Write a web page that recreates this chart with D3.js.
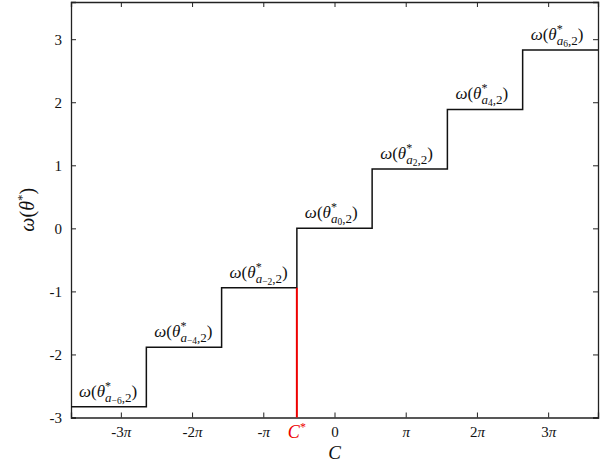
<!DOCTYPE html>
<html><head><meta charset="utf-8">
<script src="https://cdn.jsdelivr.net/npm/d3@7"></script>
<style>body{margin:0;background:#fff}svg{display:block}</style>
</head><body><svg id="c" width="606" height="466"></svg>
<script>
const PI = Math.PI;
// Step function data
const stepIndex = [-6, -4, -2, 0, 2, 4, 6];
const stepLevels = [-2.828, -1.886, -0.943, 0, 0.943, 1.886, 2.828];
const stepEdges = [-3.7 * PI, -8.30, -4.98, -1.66, 1.66, 4.98, 8.30, 3.7 * PI];
const cStar = -1.66;
const xTickMult = [-3, -2, -1, 0, 1, 2, 3];
const xTickLabels = ["-3π", "-2π", "-π", "0", "π", "2π", "3π"];
const yTicks = [-3, -2, -1, 0, 1, 2, 3];
const yTickLabels = ["-3", "-2", "-1", "0", "1", "2", "3"];

const W = 606, H = 466;
const m = {l: 71, r: 8, t: 2, b: 48.5};
const svg = d3.select("#c");
const x = d3.scaleLinear().domain([-3.7 * PI, 3.7 * PI]).range([m.l, W - m.r]);
const y = d3.scaleLinear().domain([-3, 3.59]).range([H - m.b, m.t]);
const serif = "'Liberation Serif','DejaVu Serif',serif";
const axC = "#222";

// Axes with inward ticks on all sides
const xt = xTickMult.map(k => k * PI);
const gB = svg.append("g").attr("transform", `translate(0,${y(-3)})`)
  .call(d3.axisBottom(x).tickValues(xt).tickSize(-5).tickPadding(9).tickFormat((d, i) => xTickLabels[i]));
const gT = svg.append("g").attr("transform", `translate(0,${y(3.59)})`)
  .call(d3.axisTop(x).tickValues(xt).tickSize(-5).tickFormat(""));
const gL = svg.append("g").attr("transform", `translate(${x(-3.7 * PI)},0)`)
  .call(d3.axisLeft(y).tickValues(yTicks).tickSize(-5).tickPadding(9).tickFormat((d, i) => yTickLabels[i]));
const gR = svg.append("g").attr("transform", `translate(${x(3.7 * PI)},0)`)
  .call(d3.axisRight(y).tickValues(yTicks).tickSize(-5).tickFormat(""));
[gB, gT, gL, gR].forEach(g => {
  g.select(".domain").attr("stroke", axC).attr("stroke-width", 1.3);
  g.selectAll(".tick line").attr("stroke", axC).attr("stroke-width", 1);
  g.selectAll("text").attr("font-family", serif).attr("font-size", 15).attr("fill", "#111");
});
// italic pi in x tick labels
gB.selectAll(".tick text").each(function(d, i) {
  const t = d3.select(this); const s = xTickLabels[i]; t.text(null);
  const pre = s.replace("π", "");
  if (pre) t.append("tspan").text(pre);
  if (s.includes("π")) t.append("tspan").attr("font-style", "italic").text("π");
});

// Step line
const pts = [];
stepLevels.forEach((v, i) => { pts.push([stepEdges[i], v]); pts.push([stepEdges[i + 1], v]); });
svg.append("path").datum(pts)
  .attr("d", d3.line().x(d => x(d[0])).y(d => y(d[1])))
  .attr("fill", "none").attr("stroke", "#111").attr("stroke-width", 1.5);

// Red C* line
svg.append("line").attr("x1", x(cStar)).attr("x2", x(cStar))
  .attr("y1", y(-3)).attr("y2", y(stepLevels[2]))
  .attr("stroke", "#ee0000").attr("stroke-width", 2);

// Step labels
stepIndex.forEach((k, i) => {
  const t = svg.append("text").attr("x", x(stepEdges[i]) + 8).attr("y", y(stepLevels[i]) - 10)
    .attr("font-family", serif).attr("font-size", 17).attr("fill", "#111");
  t.append("tspan").attr("font-style", "italic").text("ω");
  t.append("tspan").text("(");
  t.append("tspan").attr("font-style", "italic").text("θ");
  t.append("tspan").attr("font-size", 12).attr("dy", -7).text("*");
  t.append("tspan").attr("font-size", 13).attr("font-style", "italic").attr("dx", -6).attr("dy", 12).text("a");
  t.append("tspan").attr("font-size", 9.5).attr("dy", 2).text(k < 0 ? "−" + (-k) : String(k));
  t.append("tspan").attr("font-size", 13).attr("dy", -2).text(",2");
  t.append("tspan").attr("dy", -5).text(")");
});

// C* tick label
const cs = svg.append("text").attr("x", x(cStar)).attr("y", y(-3) + 20)
  .attr("text-anchor", "middle").attr("font-family", serif).attr("font-size", 18).attr("fill", "#ee0000");
cs.append("tspan").attr("font-style", "italic").text("C");
cs.append("tspan").attr("font-size", 12).attr("dy", -7).text("*");

// Axis titles
svg.append("text").attr("x", x(0)).attr("y", 459).attr("text-anchor", "middle")
  .attr("font-family", serif).attr("font-style", "italic").attr("font-size", 19).attr("fill", "#111").text("C");
const yl = svg.append("text").attr("transform", `translate(34,${(m.t + H - m.b) / 2}) rotate(-90)`)
  .attr("text-anchor", "middle").attr("font-family", serif).attr("font-size", 20).attr("fill", "#111");
yl.append("tspan").attr("font-style", "italic").text("ω");
yl.append("tspan").text("(");
yl.append("tspan").attr("font-style", "italic").text("θ");
yl.append("tspan").attr("font-size", 13).attr("dy", -8).text("*");
yl.append("tspan").attr("dy", 8).text(")");
</script></body></html>
